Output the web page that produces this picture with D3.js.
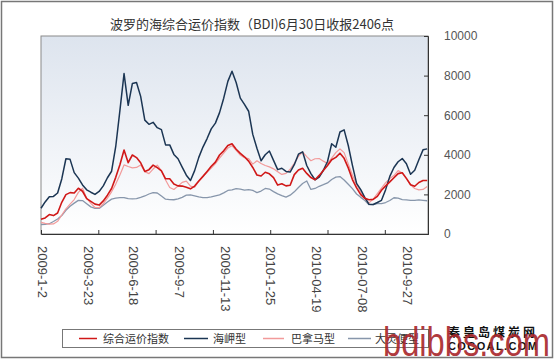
<!DOCTYPE html>
<html><head><meta charset="utf-8">
<script src="https://cdn.jsdelivr.net/npm/d3@7/dist/d3.min.js"></script>
<style>html,body{margin:0;padding:0;background:#fff;}svg{display:block;}</style>
</head><body>
<script>
// ---- data (weekly samples, 5 trading days apart) ----
const dateLabels = ["2009-1-2","2009-3-23","2009-6-18","2009-9-7","2009-11-13","2010-1-25","2010-04-19","2010-07-08","2010-9-27"];
const yTicks = [0,2000,4000,6000,8000,10000];
const seriesNames = ["综合运价指数","海岬型","巴拿马型","大灵便型"];
const bdi = [740,810,980,930,1060,1600,1990,2090,2070,2310,2160,1790,1650,1510,1460,1670,1960,2300,2860,3500,4240,3600,3990,3860,3600,3160,3250,3480,3350,3190,2790,2790,2530,2430,2420,2360,2280,2420,2680,2910,3160,3420,3630,3990,4200,4470,4560,4280,4070,3900,3680,3360,2980,2930,3120,3040,2850,2470,2540,2430,2460,3000,3230,3320,3060,2850,2740,2960,3210,3460,3750,3870,4080,3820,3340,2750,2330,1990,1800,1730,1750,1900,2210,2430,2630,2840,3050,3090,2810,2490,2410,2600,2700,2700];
const bci = [1300,1620,1880,1900,2070,2780,3800,3770,3100,2820,2480,2230,2110,2000,2150,2430,2840,3170,4420,6230,8100,6500,7600,7650,6950,5750,5540,5640,5370,5270,4500,4500,4020,3800,3380,2970,2700,3200,3870,4390,4820,5310,5600,6130,6860,7710,8220,7650,6860,6550,6200,5030,4330,3700,4000,4190,3720,3250,3320,3160,3130,3500,4030,4150,3460,3050,2740,2870,3220,3660,4560,4380,5150,5260,4470,3470,2560,2240,1840,1500,1490,1590,1700,2240,2910,3360,3650,3810,3550,3020,3220,3750,4250,4300];
const bpi = [590,540,500,510,640,960,1270,1510,1740,2100,2310,1810,1550,1340,1330,1530,1810,2130,2520,2980,3490,3410,3340,3360,3490,3150,3050,3280,3480,3200,2730,2350,2250,2420,2610,2670,2420,2360,2660,2900,3120,3330,3560,3830,4080,4340,4460,4220,3990,3850,3810,3530,3700,3560,3460,3390,3290,3150,3010,3060,3270,3570,3920,4150,3910,3700,3800,3810,3680,3560,3830,4110,4300,4110,3540,2980,2500,2110,1770,1570,1760,2040,2320,2590,2800,2950,3200,3080,2790,2490,2300,2230,2250,2400];
const bsi = [480,490,520,630,760,930,1200,1400,1560,1700,1690,1530,1370,1300,1290,1450,1620,1760,1810,1840,1840,1790,1770,1790,1850,1920,2020,2090,2070,1920,1760,1740,1730,1770,1850,1960,1980,1930,1870,1840,1840,1870,1930,1980,2080,2200,2230,2290,2270,2220,2240,2200,2090,2170,2300,2270,2140,2030,1940,1860,1960,2130,2350,2550,2680,2250,2300,2410,2490,2580,2750,2870,2900,2730,2510,2290,2020,1850,1690,1480,1480,1530,1530,1590,1690,1830,1810,1740,1720,1700,1700,1720,1700,1680];

const sampleStep = 5, labelStep = 55, tickStep = 69, totalDays = 466;

// ---- layout ----
const W = 554, H = 359;
const plot = {left: 41, top: 36, right: 428, bottom: 234};
const svg = d3.select("body").append("svg").attr("width", W).attr("height", H);

// outer frame
svg.append("rect").attr("x",1.5).attr("y",1.5).attr("width",W-3).attr("height",H-3)
  .attr("fill","#fff").attr("stroke","#777").attr("stroke-width",1.5);

const defs = svg.append("defs");
const grad = defs.append("linearGradient").attr("id","bg").attr("x1",0).attr("y1",0).attr("x2",0).attr("y2",1);
grad.append("stop").attr("offset","0%").attr("stop-color","#dde4ee");
grad.append("stop").attr("offset","100%").attr("stop-color","#ffffff");

const x = d3.scaleLinear().domain([0,totalDays]).range([plot.left, plot.right]);
const y = d3.scaleLinear().domain([0,10000]).range([plot.bottom, plot.top]);

svg.append("rect").attr("x",plot.left).attr("y",plot.top)
  .attr("width",plot.right-plot.left).attr("height",plot.bottom-plot.top)
  .attr("fill","url(#bg)").attr("stroke","#8a8a8a").attr("stroke-width",1);

// title
svg.append("text").attr("x",252).attr("y",29).attr("text-anchor","middle")
  .attr("font-family","'Noto Sans CJK SC', sans-serif").attr("font-size",13).attr("fill","#333")
  .text("波罗的海综合运价指数（BDI)6月30日收报2406点");

// lines
const line = d3.line().x((d,i)=>x(i*sampleStep)).y(d=>y(d));
const styles = [
  {data:bsi, color:"#8796ab", w:1.3},
  {data:bpi, color:"#f29a9a", w:1.2},
  {data:bci, color:"#1b3553", w:1.5},
  {data:bdi, color:"#d01818", w:1.6}
];
styles.forEach(s=>{
  svg.append("path").datum(s.data).attr("d",line).attr("fill","none")
    .attr("stroke",s.color).attr("stroke-width",s.w).attr("stroke-linejoin","round");
});

// right axis
const yAxis = d3.axisRight(y).tickValues(yTicks).tickSize(-4).tickPadding(16).tickFormat(d3.format("d"));
const ya = svg.append("g").attr("transform",`translate(${plot.right},0)`).call(yAxis);
ya.select(".domain").attr("stroke","#333");
ya.selectAll(".tick line").attr("stroke","#333");
ya.selectAll("text").attr("font-family","'Liberation Sans', sans-serif").attr("font-size",12).attr("fill","#555");

// bottom axis ticks
const tickVals = d3.range(0, totalDays+1, tickStep);
const xAxis = d3.axisBottom(x).tickValues(tickVals).tickSize(-4).tickFormat("");
const xa = svg.append("g").attr("transform",`translate(0,${plot.bottom})`).call(xAxis);
xa.select(".domain").attr("stroke","#333");
xa.selectAll(".tick line").attr("stroke","#333");

// date labels (rotated)
svg.append("g").selectAll("text").data(dateLabels).join("text")
  .attr("transform",(d,i)=>`translate(${x(i*labelStep)+1.5},246) rotate(90)`)
  .attr("dominant-baseline","central")
  .attr("font-family","'Liberation Sans', sans-serif").attr("font-size",13).attr("fill","#444")
  .text(d=>d);

// legend
const lg = svg.append("g");
lg.append("rect").attr("x",62.5).attr("y",329.5).attr("width",366).attr("height",18)
  .attr("fill","#fff").attr("stroke","#777");
const legendColors = ["#d01818","#1b3553","#f29a9a","#8796ab"];
const legX = [[79,97,103],[184,208,213],[263,284,291],[348,371,375]];
seriesNames.forEach((n,i)=>{
  lg.append("line").attr("x1",legX[i][0]).attr("x2",legX[i][1]).attr("y1",338.5).attr("y2",338.5)
    .attr("stroke",legendColors[i]).attr("stroke-width",1.5);
  lg.append("text").attr("x",legX[i][2]).attr("y",342.5)
    .attr("font-family","'Noto Sans CJK SC', sans-serif").attr("font-size",11).attr("fill","#333").text(n);
});

// watermark (overlays the legend, as in the source image)
svg.append("text").attr("x",448).attr("y",337)
  .attr("font-family","'Noto Sans CJK SC', sans-serif").attr("font-weight","bold")
  .attr("font-size",12).attr("letter-spacing",3).attr("fill","#111").text("秦皇岛煤炭网");
svg.append("text").attr("x",448).attr("y",350).attr("textLength",89).attr("lengthAdjust","spacing")
  .attr("font-family","'Liberation Sans', sans-serif").attr("font-weight","bold")
  .attr("font-size",11).attr("fill","#111").text("COCOAL.COM");
svg.append("text").attr("x",383).attr("y",356).attr("textLength",167).attr("lengthAdjust","spacingAndGlyphs")
  .attr("font-family","'Liberation Sans', sans-serif")
  .attr("font-size",41).attr("fill","#a8262b").attr("fill-opacity",0.92).text("bdibbs.com");
</script>
</body></html>
